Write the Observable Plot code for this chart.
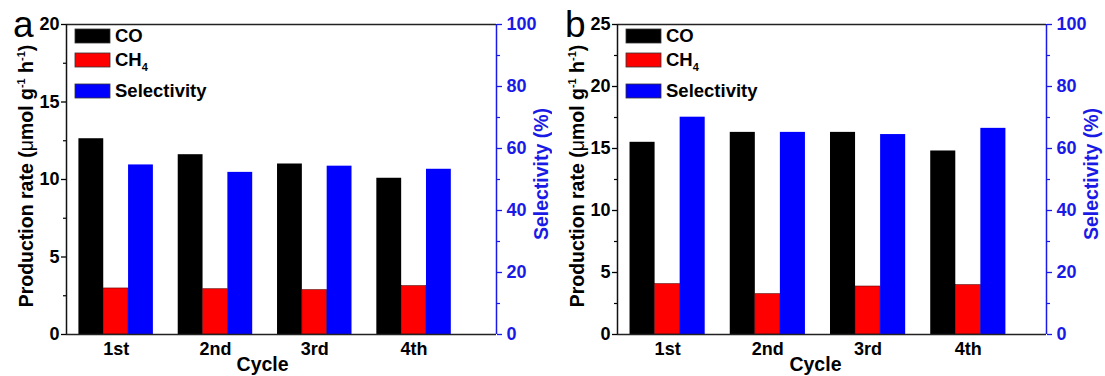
<!DOCTYPE html>
<html><head><meta charset="utf-8">
<script src="https://cdn.jsdelivr.net/npm/d3@7"></script>
<script src="https://cdn.jsdelivr.net/npm/@observablehq/plot@0.6"></script>
<style>
html,body{margin:0;padding:0;background:#fff;}
#wrap{display:flex;width:1105px;height:376px;overflow:hidden;background:#fff;}
svg{display:block}
</style></head><body><div id="wrap"></div>
<script>
// ---- data ----
const cycles = ["1st", "2nd", "3rd", "4th"];
const seriesNames = ["CO", "CH4", "Selectivity"];
// panel a
const coA  = [12.63, 11.6, 11.0, 10.08];
const ch4A = [2.97, 2.92, 2.86, 3.12];
const selA = [54.7, 52.3, 54.3, 53.3];
const leftTicksA = [0, 5, 10, 15, 20];
const leftMinorA = [2.5, 7.5, 12.5, 17.5];
// panel b
const coB  = [15.5, 16.3, 16.3, 14.8];
const ch4B = [4.06, 3.25, 3.87, 3.98];
const selB = [70.1, 65.2, 64.5, 66.5];
const leftTicksB = [0, 5, 10, 15, 20, 25];
const leftMinorB = [2.5, 7.5, 12.5, 17.5, 22.5];
// right axis (selectivity, %)
const rightTicks = [0, 20, 40, 60, 80, 100];
const rightMinor = [10, 30, 50, 70, 90];

const BLACK = "#000000", RED = "#ff0000", BLUE = "#0000ff", BLUE_TXT = "#1a1ae6";
const FONT = "'Liberation Sans', Arial, Helvetica, sans-serif";

function panel({letter, co, ch4, sel, leftMax, leftTicks, leftMinor, width, ml, mr, xMax}) {
  const k = leftMax / 100; // selectivity -> left units
  const rows = (vals, s = 1) => vals.map((v, i) => ({cycle: i + 1, v: v * s, raw: v}));
  const w = 0.25;
  const bar = (vals, idx, fill, s = 1, extra = {}) => Plot.rect(rows(vals, s), {
    x1: d => d.cycle - 1.5 * w + idx * w,
    x2: d => d.cycle - 0.5 * w + idx * w,
    y1: 0, y2: "v", fill, ...extra
  });
  const txt = {fontSize: 18, fontWeight: "bold", fontFamily: FONT};
  const plot = Plot.plot({
    width, height: 376,
    marginLeft: ml, marginRight: mr, marginTop: 24, marginBottom: 42,
    x: {domain: [0.5, xMax]},
    y: {domain: [0, leftMax]},
    style: {fontFamily: FONT, fontSize: "18px", fontWeight: "bold", background: "white", color: "black", overflow: "visible"},
    marks: [
      bar(co, 0, BLACK),
      bar(ch4, 1, RED, 1, {stroke: "#5a0000", strokeWidth: 0.6}),
      bar(sel, 2, BLUE, k),
      Plot.axisY(leftTicks, {anchor: "left", tickSize: 5, tickPadding: 2, strokeWidth: 1.3, label: null, ...txt}),
      Plot.axisY(leftMinor, {anchor: "left", tickSize: 3, strokeWidth: 1.2, tickFormat: () => "", label: null}),
      Plot.axisY(rightTicks.map(v => v * k), {anchor: "right", tickSize: 5, tickPadding: 5, strokeWidth: 1.3, label: null,
        tickFormat: v => String(Math.round(v / k)), stroke: BLUE_TXT, fill: BLUE_TXT, color: BLUE_TXT, ...txt}),
      Plot.axisY(rightMinor.map(v => v * k), {anchor: "right", tickSize: 3, strokeWidth: 1.2, tickFormat: () => "", label: null,
        stroke: BLUE_TXT, color: BLUE_TXT}),
      Plot.axisX([1, 2, 3, 4], {anchor: "bottom", tickSize: 0, tickPadding: 8, label: null,
        tickFormat: d => cycles[d - 1], ...txt}),
      Plot.ruleY([0], {stroke: "#222", strokeWidth: 1.5}),
      Plot.ruleY([leftMax], {stroke: "#222", strokeWidth: 1.5}),
      Plot.ruleX([0.5], {stroke: "#111", strokeWidth: 1.5}),
      Plot.ruleX([xMax], {stroke: BLUE_TXT, strokeWidth: 1.5})
    ]
  });

  const svg = d3.select(plot);
  const xs = plot.scale("x");
  const g = svg.append("g").attr("font-family", FONT).attr("text-anchor", "start");

  // panel letter
  g.append("text").attr("x", 13).attr("y", 37).attr("text-anchor", "start")
    .attr("font-size", 37).attr("font-weight", "normal").attr("fill", "#000").text(letter);

  // legend
  const legendY = [29, 53, 84];
  const legendColors = [BLACK, RED, BLUE];
  seriesNames.forEach((name, i) => {
    g.append("rect").attr("x", ml + 9).attr("y", legendY[i]).attr("width", 35).attr("height", 14)
      .attr("fill", legendColors[i]).attr("stroke", "#333").attr("stroke-width", 0.8);
    const t = g.append("text").attr("x", ml + 49).attr("y", legendY[i] + 13).attr("text-anchor", "start")
      .attr("font-size", 18.5).attr("font-weight", "bold").attr("fill", "#000");
    if (name === "CH4") {
      t.append("tspan").text("CH");
      t.append("tspan").attr("dy", 5).attr("font-size", 11).text("4");
    } else {
      t.text(name);
    }
  });

  // left title
  const lt = g.append("text")
    .attr("transform", `translate(${ml - 33.5},176) rotate(-90)`)
    .attr("text-anchor", "middle").attr("font-size", 19.5).attr("font-weight", "bold").attr("fill", "#000");
  lt.append("tspan").text("Production rate (");
  lt.append("tspan").attr("font-weight", "normal").text("μ");
  lt.append("tspan").text("mol g");
  lt.append("tspan").attr("dy", -8).attr("font-size", 11).text("-1");
  lt.append("tspan").attr("dy", 8).text(" h");
  lt.append("tspan").attr("dy", -8).attr("font-size", 11).text("-1");
  lt.append("tspan").attr("dy", 8).text(")");

  // right title
  g.append("text")
    .attr("transform", `translate(${width - mr + 52},174) rotate(-90)`)
    .attr("text-anchor", "middle").attr("font-size", 19.5).attr("font-weight", "bold")
    .attr("fill", BLUE_TXT).text("Selectivity (%)");

  // x title
  g.append("text").attr("x", xs.apply(2.48)).attr("y", 371)
    .attr("text-anchor", "middle").attr("font-size", 19.5).attr("font-weight", "bold")
    .attr("fill", "#000").text("Cycle");

  return plot;
}

const wrap = document.getElementById("wrap");
wrap.appendChild(panel({letter: "a", co: coA, ch4: ch4A, sel: selA, leftMax: 20,
  leftTicks: leftTicksA, leftMinor: leftMinorA, width: 552, ml: 66, mr: 56, xMax: 4.83}));
wrap.appendChild(panel({letter: "b", co: coB, ch4: ch4B, sel: selB, leftMax: 25,
  leftTicks: leftTicksB, leftMinor: leftMinorB, width: 553, ml: 65, mr: 59, xMax: 4.78}));
</script>
</body></html>
